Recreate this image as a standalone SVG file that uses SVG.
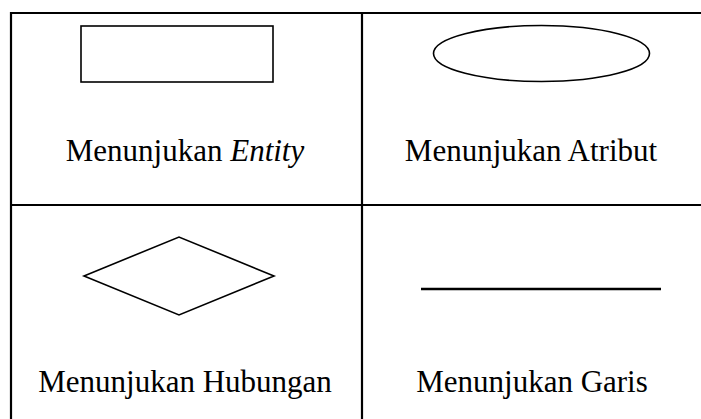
<svg xmlns="http://www.w3.org/2000/svg" width="701" height="419" viewBox="0 0 701 419">
<style>
.grid{stroke:#000;stroke-width:2.2;fill:none}
.shape{stroke:#000;stroke-width:1.6;fill:#fff}
.lbl{font-family:"Liberation Serif","Times New Roman",serif;font-size:31px;fill:#000;text-anchor:middle}
</style>
<rect width="701" height="419" fill="#fff"/>
<g id="table">
<line class="grid" x1="11" y1="12" x2="11" y2="419"/>
<line class="grid" x1="10" y1="13" x2="701" y2="13"/>
<line class="grid" x1="362" y1="13" x2="362" y2="419"/>
<line class="grid" x1="10" y1="205" x2="701" y2="205"/>
</g>
<g id="entity">
<rect class="shape" x="81" y="26" width="192" height="56"/>
<text class="lbl" x="185" y="161">Menunjukan <tspan font-style="italic">Entity</tspan></text>
</g>
<g id="atribut">
<ellipse class="shape" cx="541.5" cy="53.5" rx="108" ry="28"/>
<text class="lbl" x="531" y="161">Menunjukan Atribut</text>
</g>
<g id="hubungan">
<polygon class="shape" points="84,276 179,237 274,276 179,315"/>
<text class="lbl" x="185" y="392">Menunjukan Hubungan</text>
</g>
<g id="connectors">
<line x1="421" y1="289" x2="661" y2="289" stroke="#000" stroke-width="2.6"/>
<text class="lbl" x="532" y="392">Menunjukan Garis</text>
</g>
</svg>
